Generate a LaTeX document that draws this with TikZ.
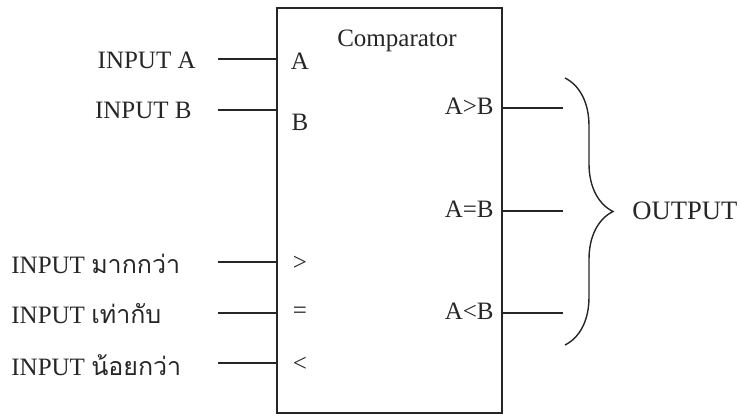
\documentclass[tikz,border=0pt]{standalone}
\usepackage{fontspec}
\setmainfont{Liberation Serif}
\newfontfamily\thaifont[Script=Thai]{Loma}
\usetikzlibrary{decorations.pathreplacing}

\tikzstyle{block}=[draw=black!85, line width=1pt]
\tikzstyle{wire}=[black!85, line width=0.7pt]
\tikzstyle{lbl}=[text=black!85, inner sep=0pt, font=\fontsize{12.5}{15}\selectfont]
\tikzstyle{curly}=[black!85, line width=0.7pt, decorate, decoration={brace, amplitude=24pt}]

\begin{document}
\begin{tikzpicture}[x=0.5pt, y=-0.5pt]
	\useasboundingbox (0,0) rectangle (740,419);

	% The comparator block
	\draw[block] (277,8) rectangle (502,413);
	\node[lbl] (name) at (397,41) {Comparator};

	% Inputs on the left side
	\foreach \n/\y in {a/59, b/110, gt/262, eq/313, lt/363}{
		\coordinate (in-\n) at (218,\y);
		\coordinate (pin-\n) at (277,\y);
		\draw[wire] (in-\n) -- (pin-\n);
	}

	\node[lbl, anchor=east] (txt-a) at (196,60) {INPUT A};
	\node[lbl, anchor=east] (txt-b) at (192,110) {INPUT B};
	\node[lbl, anchor=west] (txt-gt) at (11,264) {INPUT {\thaifont มากกว่า}};
	\node[lbl, anchor=west] (txt-eq) at (11,314) {INPUT {\thaifont เท่ากับ}};
	\node[lbl, anchor=west] (txt-lt) at (11,365) {INPUT {\thaifont น้อยกว่า}};

	\node[lbl] (port-a) at (300,61) {A};
	\node[lbl] (port-b) at (300,122) {B};
	\node[lbl] (port-gt) at (300,263) {>};
	\node[lbl] (port-eq) at (300,313) {=};
	\node[lbl] (port-lt) at (300,364) {<};

	% Outputs on the right side
	\foreach \n/\y in {agb/108, aeb/211, alb/313}{
		\coordinate (pin-\n) at (502,\y);
		\coordinate (out-\n) at (563,\y);
		\draw[wire] (pin-\n) -- (out-\n);
	}

	\node[lbl, anchor=east] (port-agb) at (494,106) {A>B};
	\node[lbl, anchor=east] (port-aeb) at (494,209) {A=B};
	\node[lbl, anchor=east] (port-alb) at (494,311) {A<B};

	% Brace over the three outputs
	\coordinate (br-top) at (565,78);
	\coordinate (br-bot) at (565,345);
	\draw[curly] (br-top) -- (br-bot);
	\node[lbl, anchor=west, font=\fontsize{13.3}{16}\selectfont] (output) at (632,211) {OUTPUT};
\end{tikzpicture}
\end{document}
